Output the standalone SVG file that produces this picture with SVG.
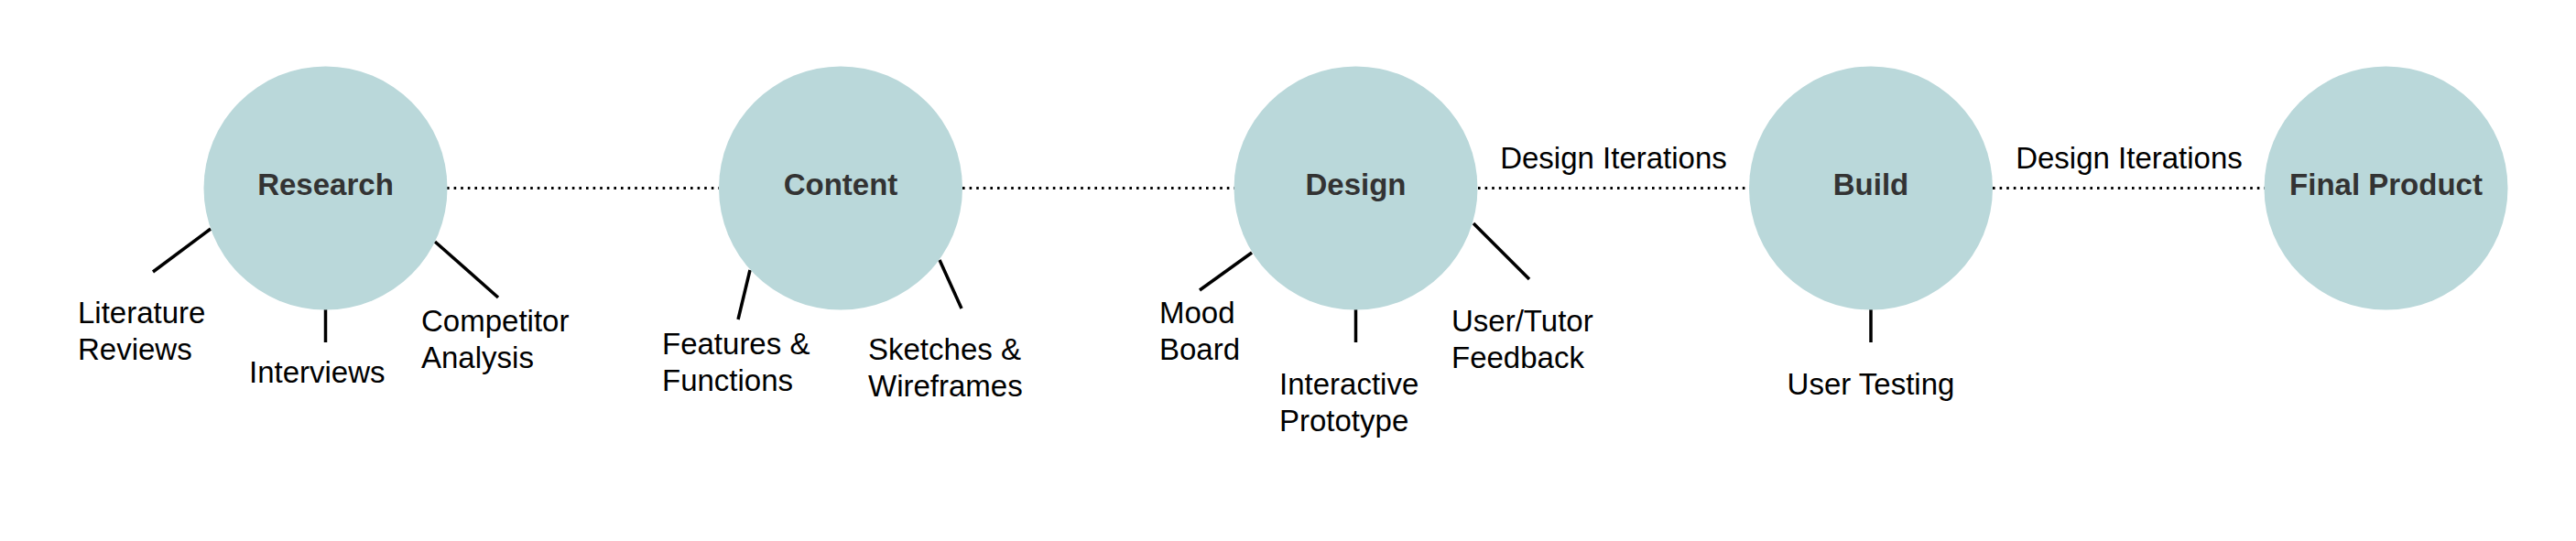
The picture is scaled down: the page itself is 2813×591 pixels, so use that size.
<svg xmlns="http://www.w3.org/2000/svg" width="2813" height="591" viewBox="0 0 2813 591">
<style>
.node circle{fill:#BAD8DA;stroke:none}
.node .title{font-family:"Liberation Sans",Arial,sans-serif;font-size:33px;font-weight:bold;fill:#333333;text-anchor:middle}
.lbl{font-family:"Liberation Sans",Arial,sans-serif;font-size:33px;fill:#000000}
.mid{text-anchor:middle}
.dot{stroke:#000;stroke-width:3;stroke-dasharray:2.6 5;fill:none}
.tick{stroke:#000;stroke-width:3.5;fill:none}
</style>
<rect width="2813" height="591" fill="#ffffff"/>
<g id="connectors">
<line class="dot" x1="488" y1="205.5" x2="785" y2="205.5"/>
<line class="dot" x1="1051" y1="205.5" x2="1348" y2="205.5"/>
<line class="dot" x1="1614" y1="205.5" x2="1910" y2="205.5"/>
<line class="dot" x1="2176" y1="205.5" x2="2473" y2="205.5"/>
<text class="lbl mid" x="1762" y="184">Design Iterations</text>
<text class="lbl mid" x="2325" y="184">Design Iterations</text>
<line class="tick" x1="230" y1="250" x2="167" y2="297"/>
<line class="tick" x1="355.5" y1="338" x2="355.5" y2="374"/>
<line class="tick" x1="475" y1="264" x2="544" y2="325"/>
<line class="tick" x1="819" y1="295" x2="806" y2="349"/>
<line class="tick" x1="1026" y1="284" x2="1050" y2="337"/>
<line class="tick" x1="1367" y1="276" x2="1310" y2="317"/>
<line class="tick" x1="1480.5" y1="338" x2="1480.5" y2="374"/>
<line class="tick" x1="1609" y1="244" x2="1670" y2="305"/>
<line class="tick" x1="2043" y1="338" x2="2043" y2="374"/>
</g>
<g id="research" class="node">
<circle cx="355.5" cy="205.5" r="133"/>
<text class="title" x="355.5" y="213">Research</text>
</g>
<g id="content" class="node">
<circle cx="918" cy="205.5" r="133"/>
<text class="title" x="918" y="213">Content</text>
</g>
<g id="design" class="node">
<circle cx="1480.5" cy="205.5" r="133"/>
<text class="title" x="1480.5" y="213">Design</text>
</g>
<g id="build" class="node">
<circle cx="2043" cy="205.5" r="133"/>
<text class="title" x="2043" y="213">Build</text>
</g>
<g id="final-product" class="node">
<circle cx="2605.5" cy="205.5" r="133"/>
<text class="title" x="2605.5" y="213">Final Product</text>
</g>
<g id="literature-reviews"><text class="lbl" x="85" y="353">Literature</text><text class="lbl" x="85" y="393">Reviews</text></g>
<g id="interviews"><text class="lbl" x="272" y="418">Interviews</text></g>
<g id="competitor-analysis"><text class="lbl" x="460" y="362">Competitor</text><text class="lbl" x="460" y="402">Analysis</text></g>
<g id="features-functions"><text class="lbl" x="723" y="387">Features &amp;</text><text class="lbl" x="723" y="427">Functions</text></g>
<g id="sketches-wireframes"><text class="lbl" x="948" y="393">Sketches &amp;</text><text class="lbl" x="948" y="433">Wireframes</text></g>
<g id="mood-board"><text class="lbl" x="1266" y="353">Mood</text><text class="lbl" x="1266" y="393">Board</text></g>
<g id="interactive-prototype"><text class="lbl" x="1397" y="431">Interactive</text><text class="lbl" x="1397" y="471">Prototype</text></g>
<g id="user-tutor-feedback"><text class="lbl" x="1585" y="362">User/Tutor</text><text class="lbl" x="1585" y="402">Feedback</text></g>
<g id="user-testing"><text class="lbl mid" x="2043" y="431">User Testing</text></g>
</svg>
